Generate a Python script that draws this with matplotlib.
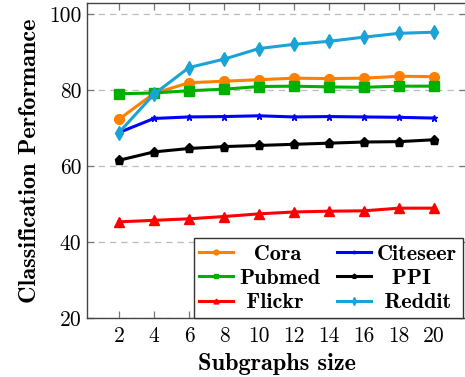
import matplotlib
matplotlib.use("Agg")
import matplotlib.pyplot as plt

x = [2, 4, 6, 8, 10, 12, 14, 16, 18, 20]
cora = [72.3, 79.1, 81.9, 82.3, 82.7, 83.1, 83.0, 83.1, 83.6, 83.5]
pubmed = [79.0, 79.2, 79.8, 80.2, 80.9, 81.0, 80.8, 80.7, 81.0, 81.0]
flickr = [45.3, 45.7, 46.1, 46.7, 47.4, 47.9, 48.1, 48.2, 48.9, 48.9]
citeseer = [68.8, 72.5, 72.9, 73.0, 73.2, 72.9, 73.0, 72.9, 72.8, 72.6]
ppi = [61.5, 63.7, 64.6, 65.1, 65.4, 65.7, 66.0, 66.3, 66.4, 66.9]
reddit = [68.8, 78.9, 85.9, 88.1, 90.9, 92.0, 92.8, 93.9, 94.9, 95.2]
yticks = [20, 40, 60, 80, 100]

fig = plt.figure(figsize=(4.65, 3.77), dpi=100)
ax = fig.add_axes([87/465, 59/377, 379/465, 314.7/377])

series = [
    ("Cora", cora, "#FF8000", "o", 7, "  "),
    ("Pubmed", pubmed, "#00B000", "s", 6.5, ""),
    ("Flickr", flickr, "#FF0000", "^", 7, " "),
    ("Citeseer", citeseer, "#0000FF", "*", 5, ""),
    ("PPI", ppi, "#000000", "p", 6.5, "  "),
    ("Reddit", reddit, "#1AA3D6", "d", 7.5, " "),
]
for name, vals, col, m, ms, pad in series:
    ax.plot(x, vals, color=col, marker=m, markersize=ms, lw=2.2, label=pad + name)

ax.set_xlim(0.17, 21.83)
ax.set_ylim(20, 102.8)
ax.set_xticks(x)
ax.set_yticks(yticks)
ax.yaxis.grid(True, linestyle=(0, (5, 4)), color="#BBBBBB", lw=0.9)
ax.set_axisbelow(True)
for sp in ax.spines.values():
    sp.set_color("#444444")
    sp.set_linewidth(1.0)
ax.tick_params(axis="x", direction="in", top=True, length=5, color="#777777", width=0.9, pad=6)
ax.tick_params(axis="y", direction="in", right=True, length=5, color="#777777", width=0.9, pad=4)
for lab in ax.get_xticklabels() + ax.get_yticklabels():
    lab.set_fontfamily("cmr10")
    lab.set_fontsize(15.5)

ax.set_xlabel("Subgraphs size", fontfamily="cmb10", fontsize=17.5, labelpad=5)
ax.set_ylabel("Classification Performance", fontfamily="cmb10", fontsize=17.5, labelpad=6)

leg = ax.legend(ncol=2, loc="lower left", bbox_to_anchor=(0.282, 0.0), borderaxespad=0,
                prop={"family": "cmb10", "size": 16}, fancybox=False, edgecolor="#333333",
                framealpha=1, markerscale=0.5, handlelength=1.5, labelspacing=0.22,
                columnspacing=0.75, handletextpad=0.3, borderpad=0.25)
leg.get_frame().set_linewidth(1.0)

fig.savefig("out.png", dpi=100)
